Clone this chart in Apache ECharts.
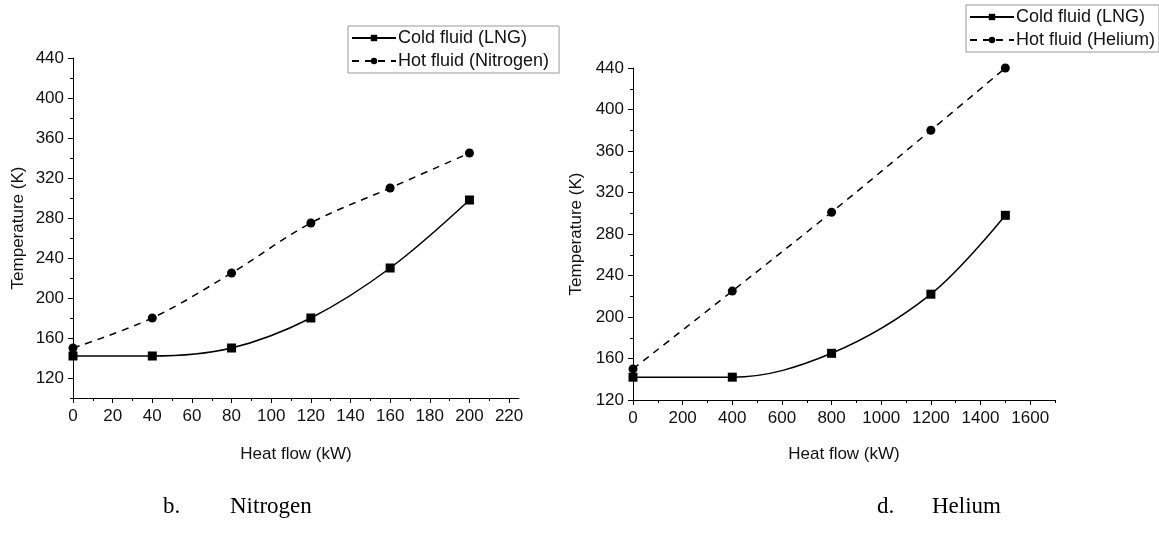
<!DOCTYPE html>
<html>
<head>
<meta charset="utf-8">
<script src="https://cdn.jsdelivr.net/npm/echarts@6/dist/echarts.min.js"></script>
<style>
html,body{margin:0;padding:0;background:#fff;}
#c{width:1159px;height:538px;}
</style>
</head>
<body>
<div id="c"></div>
<script>
// ---- Data ----
const nitrogenHeat = [0, 40, 80, 120, 160, 200];
const nitrogenCold = [142, 142, 150, 180, 230, 298];
const nitrogenHot = [150, 180, 225, 275, 310, 345];

const heliumHeat = [0, 400, 800, 1200, 1500];
const heliumCold = [142, 142, 165, 222, 298];
const heliumHot = [150, 225, 301, 380, 440];

const tempTicks = [120, 160, 200, 240, 280, 320, 360, 400, 440];
const tempMinorLeft = [100, 140, 180, 220, 260, 300, 340, 380, 420];
const tempMinorRight = [140, 180, 220, 260, 300, 340, 380, 420];
const nHeatTicks = [0, 20, 40, 60, 80, 100, 120, 140, 160, 180, 200, 220];
const nHeatMinor = [10, 30, 50, 70, 90, 110, 130, 150, 170, 190, 210];
const hHeatTicks = [0, 200, 400, 600, 800, 1000, 1200, 1400, 1600];
const hHeatMinor = [100, 300, 500, 700, 900, 1100, 1300, 1500, 1700];

const coldName = 'Cold fluid (LNG)';
const hotN = 'Hot fluid (Nitrogen)';
const hotH = 'Hot fluid (Helium)';

const pair = (xs, ys) => xs.map((x, i) => [x, ys[i]]);

const FONT = '"Liberation Sans", Arial, sans-serif';
const black = '#000';

function mainAxis(type, gridIndex, min, max, ticks, name, nameGap) {
  const isY = type === 'y';
  return {
    type: 'value', gridIndex, min, max,
    position: isY ? 'left' : 'bottom',
    name, nameLocation: 'middle', nameGap,
    nameTextStyle: { fontFamily: FONT, fontSize: 17, color: '#111' },
    axisLine: { show: true, lineStyle: { color: black, width: 1 } },
    axisTick: { show: true, length: 5, customValues: ticks, lineStyle: { color: black } },
    axisLabel: {
      show: true, customValues: ticks, fontFamily: FONT, fontSize: 17, color: '#111',
      margin: isY ? 9 : 10, formatter: v => String(v)
    },
    splitLine: { show: false },
    minorTick: { show: false }
  };
}
function minorAxis(type, gridIndex, min, max, ticks) {
  const isY = type === 'y';
  return {
    type: 'value', gridIndex, min, max,
    position: isY ? 'left' : 'bottom',
    axisLine: { show: false },
    axisTick: { show: true, length: 3, customValues: ticks, lineStyle: { color: black } },
    axisLabel: { show: false },
    splitLine: { show: false }
  };
}

function lineSeries(name, data, xi, yi, dashed, symbol) {
  return {
    name, type: 'line', xAxisIndex: xi, yAxisIndex: yi,
    data, smooth: 0.35,
    symbol, symbolSize: 9,
    showAllSymbol: true,
    clip: false,
    lineStyle: { color: black, width: 1.5, type: dashed ? [7, 6] : 'solid' },
    itemStyle: { color: black },
    emphasis: { disabled: true },
    z: 3
  };
}

const legendBase = {
  orient: 'vertical', borderColor: '#999', borderWidth: 1,
  padding: [3, 4, 3, 3], itemGap: 5, itemWidth: 44, itemHeight: 8, selectedMode: false,
  textStyle: { fontFamily: FONT, fontSize: 18, color: '#111', padding: [0, 0, 0, -3] }
};

const chart = echarts.init(document.getElementById('c'), null, { renderer: 'canvas' });
chart.setOption({
  backgroundColor: '#fff',
  animation: false,
  grid: [
    { left: 73, top: 58, width: 446, height: 340, containLabel: false },
    { left: 633, top: 68, width: 422, height: 332, containLabel: false }
  ],
  xAxis: [
    mainAxis('x', 0, 0, 225, nHeatTicks, 'Heat flow (kW)', 48),
    mainAxis('x', 1, 0, 1700, hHeatTicks, 'Heat flow (kW)', 46),
    minorAxis('x', 0, 0, 225, nHeatMinor),
    minorAxis('x', 1, 0, 1700, hHeatMinor)
  ],
  yAxis: [
    mainAxis('y', 0, 100, 440, tempTicks, 'Temperature (K)', 46),
    mainAxis('y', 1, 120, 440, tempTicks, 'Temperature (K)', 48),
    minorAxis('y', 0, 100, 440, tempMinorLeft),
    minorAxis('y', 1, 120, 440, tempMinorRight)
  ],
  legend: [
    Object.assign({}, legendBase, { data: [coldName, hotN], left: 348, top: 26, padding: [3, 10, 3, 3] }),
    Object.assign({}, legendBase, { data: [coldName, hotH], left: 966, top: 5 })
  ],
  series: [
    lineSeries(coldName, pair(nitrogenHeat, nitrogenCold), 0, 0, false, 'rect'),
    lineSeries(hotN, pair(nitrogenHeat, nitrogenHot), 0, 0, true, 'circle'),
    lineSeries(coldName, pair(heliumHeat, heliumCold), 1, 1, false, 'rect'),
    lineSeries(hotH, pair(heliumHeat, heliumHot), 1, 1, true, 'circle')
  ],
  graphic: [
    { type: 'text', left: 163, top: 495, style: { text: 'b.', font: '23px "Liberation Serif", "Times New Roman", serif', fill: '#000' } },
    { type: 'text', left: 230, top: 495, style: { text: 'Nitrogen', font: '23px "Liberation Serif", "Times New Roman", serif', fill: '#000' } },
    { type: 'text', left: 877, top: 495, style: { text: 'd.', font: '23px "Liberation Serif", "Times New Roman", serif', fill: '#000' } },
    { type: 'text', left: 932, top: 495, style: { text: 'Helium', font: '23px "Liberation Serif", "Times New Roman", serif', fill: '#000' } }
  ]
});
</script>
</body>
</html>
